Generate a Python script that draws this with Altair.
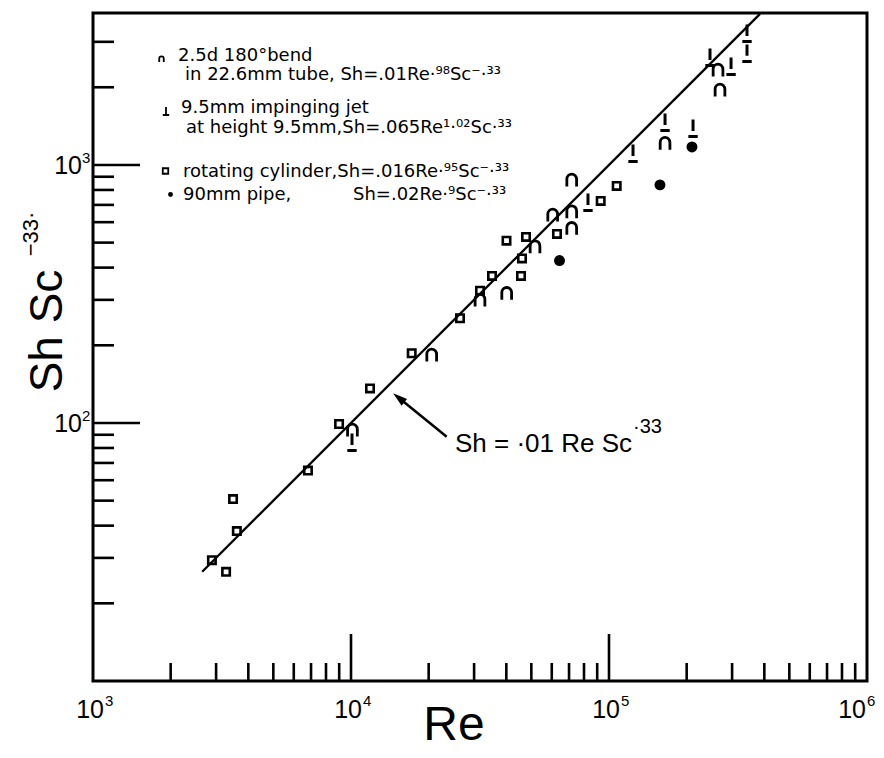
import altair as alt
import pandas as pd

# ---------------- data (Re, Sh*Sc^-0.33) ----------------
cyl_re = [2890, 3280, 3490, 3610, 6810, 8990, 11850, 17190, 26450, 31620, 35200,
          40060, 46000, 45600, 47690, 62860, 92860, 107100]
cyl_v = [29.4, 26.5, 50.7, 38.1, 65.4, 99.1, 136.1, 186.3, 254.6, 325.7, 371.3,
         508.8, 434.1, 371.3, 525.9, 540.2, 725.3, 829.2]

bend_re = [10130, 20550, 31620, 40130, 51670, 60510, 71700, 71700, 71700,
           164900, 269300, 264600]
bend_v = [94.0, 183.5, 299.7, 318.2, 482.4, 640.2, 659.2, 568.4, 874.6,
          1214, 1953, 2335]

jet_re = [10090, 82900, 123900, 164900, 211700, 246300, 297200, 342700, 342700]
jet_v = [84.4, 718.9, 1113, 1468, 1391, 2622, 2420, 2718, 3248]

pipe_re = [64300, 157600, 209700]
pipe_v = [426, 837, 1174]

fit_re = [2650, 385000]
fit_v = [26.5, 3850]

x_labels = [1e3, 1e4, 1e5]
x_label_exp = ["3", "4", "5"]
x_label_last = [1e6]
x_label_last_exp = ["6"]
x_major = [1e4, 1e5]
x_minor = [m * d for d in (1e3, 1e4, 1e5) for m in range(2, 10)]
y_labels = [100, 1000]
y_label_exp = ["2", "3"]
y_major = [100, 1000]
y_minor = [m * d for d in (10, 100) for m in range(2, 10)] + [2000, 3000]

legend_lines = [
    "2.5d 180°bend",
    "in 22.6mm tube, Sh=.01Re·⁹⁸Sc⁻·³³",
    "9.5mm impinging jet",
    "at height 9.5mm,Sh=.065Re¹·⁰²Sc·³³",
    "rotating cylinder,Sh=.016Re·⁹⁵Sc⁻·³³",
    "90mm pipe,",
    "Sh=.02Re·⁹Sc⁻·³³",
]

# ---------------- layout ----------------
W, H = 774, 668
xs = alt.Scale(type="log", domain=[1000, 1e6], nice=False)
ys = alt.Scale(type="log", domain=[10, 3880], nice=False)

BEND = "M-0.75,1L-0.75,-0.1C-0.75,-1.15 0.75,-1.15 0.75,-0.1L0.75,1"
JET = "M0,-1L0,0.35M-0.55,1L0.55,1"
JET_LEG = "M0,-1L0,1M-0.8,1L0.8,1"
ARROW = "M0,-1L0.6,1L-0.6,1Z"
LABEL_FONT = "Liberation Sans"

X = lambda f="re": alt.X(f"{f}:Q", scale=xs, axis=None)
Y = lambda f="v": alt.Y(f"{f}:Q", scale=ys, axis=None)

df_cyl = pd.DataFrame({"re": cyl_re, "v": cyl_v})
df_bend = pd.DataFrame({"re": bend_re, "v": bend_v})
df_jet = pd.DataFrame({"re": jet_re, "v": jet_v})
df_pipe = pd.DataFrame({"re": pipe_re, "v": pipe_v})
df_fit = pd.DataFrame({"re": fit_re, "v": fit_v})

fit_line = alt.Chart(df_fit).mark_line(color="black", strokeWidth=2.3).encode(x=X(), y=Y())

def ticks_x(vals, length):
    return alt.Chart(pd.DataFrame({"t": vals})).mark_rule(
        color="black", strokeWidth=2.6).encode(
        x=X("t"), y=alt.value(H - length), y2=alt.value(H))

def ticks_y(vals, length):
    return alt.Chart(pd.DataFrame({"t": vals})).mark_rule(
        color="black", strokeWidth=2.6).encode(
        y=Y("t"), x=alt.value(0), x2=alt.value(length))

# tick labels "10" + superscript exponent
def x_tick_labels(vals, exps, dx_main, dx_sup):
    df = pd.DataFrame({"t": vals, "e": exps, "b": ["10"] * len(vals)})
    main = alt.Chart(df).mark_text(align="right", baseline="alphabetic", dx=dx_main,
                                   font=LABEL_FONT, fontSize=25, color="black").encode(
        x=X("t"), y=alt.value(705), text="b:N")
    sup = alt.Chart(df).mark_text(align="left", baseline="alphabetic", dx=dx_sup,
                                  font=LABEL_FONT, fontSize=15, color="black").encode(
        x=X("t"), y=alt.value(693), text="e:N")
    return [main, sup]

df_yl = pd.DataFrame({"t": y_labels, "e": y_label_exp, "b": ["10"] * 2})
yl_main = alt.Chart(df_yl).mark_text(align="right", baseline="alphabetic", dy=9,
                                     font=LABEL_FONT, fontSize=25, color="black").encode(
    y=Y("t"), x=alt.value(-11), text="b:N")
yl_sup = alt.Chart(df_yl).mark_text(align="left", baseline="alphabetic", dy=-2,
                                    font=LABEL_FONT, fontSize=15, color="black").encode(
    y=Y("t"), x=alt.value(-11), text="e:N")

cyl = alt.Chart(df_cyl).mark_point(shape="square", filled=False, color="black",
                                   strokeWidth=2.6, size=55, opacity=1).encode(x=X(), y=Y())
bend = alt.Chart(df_bend).mark_point(shape=BEND, filled=False, color="black",
                                     strokeWidth=2.8, size=169, opacity=1).encode(x=X(), y=Y())
jet = alt.Chart(df_jet).mark_point(shape=JET, filled=False, color="black",
                                   strokeWidth=3, size=289, opacity=1).encode(x=X(), y=Y())
pipe = alt.Chart(df_pipe).mark_circle(color="black", size=120, opacity=1).encode(x=X(), y=Y())

# annotation arrow and text (in data coordinates)
arrow_line = alt.Chart(pd.DataFrame({"re": [23490], "v": [88.5], "re2": [15310], "v2": [125.3]})).mark_rule(
    color="black", strokeWidth=2.5).encode(x=X(), y=Y(), x2="re2:Q", y2="v2:Q")
arrow_head = alt.Chart(pd.DataFrame({"re": [15310], "v": [125.3]})).mark_point(
    shape=ARROW, filled=True, color="black", size=210, angle=309, opacity=1).encode(x=X(), y=Y())
ann_text = alt.Chart(pd.DataFrame({"re": [25300], "v": [77.2], "t": ["Sh = ·01 Re  Sc"]})).mark_text(
    align="left", baseline="alphabetic", font="Liberation Sans", fontSize=26, color="black").encode(
    x=X(), y=Y(), text="t:N")
ann_sup = alt.Chart(pd.DataFrame({"re": [123900], "v": [91.5], "t": ["·33"]})).mark_text(
    align="left", baseline="alphabetic", font="Liberation Sans", fontSize=20, color="black").encode(
    x=X(), y=Y(), text="t:N")

# legend (pixel positions inside the plot area)
leg_text_df = pd.DataFrame({
    "px": [85, 92, 88, 93, 90, 90, 260],
    "py": [48, 67, 100, 120, 164, 187, 187],
    "t": legend_lines,
})
leg_text = alt.Chart(leg_text_df).mark_text(
    align="left", baseline="alphabetic", font="DejaVu Sans", fontSize=18, color="black").encode(
    x=alt.X("px:Q", scale=None), y=alt.Y("py:Q", scale=None), text="t:N")

def leg_sym(shape, px, py, size, filled=False, sw=1.8):
    return alt.Chart(pd.DataFrame({"px": [px], "py": [py]})).mark_point(
        shape=shape, filled=filled, color="black", strokeWidth=sw, size=size, opacity=1).encode(
        x=alt.X("px:Q", scale=None), y=alt.Y("py:Q", scale=None))

leg_syms = [
    leg_sym(BEND, 68.5, 46, 36),
    leg_sym(JET_LEG, 73, 98, 64),
    leg_sym("square", 72.5, 158, 30),
    leg_sym("circle", 77.5, 181.5, 24, filled=True),
]

# axis titles as text
ytitle = alt.Chart(pd.DataFrame({"px": [-31], "py": [318], "t": ["Sh Sc"]})).mark_text(
    align="center", baseline="alphabetic", angle=270, font="Liberation Sans",
    fontSize=46, color="black").encode(
    x=alt.X("px:Q", scale=None), y=alt.Y("py:Q", scale=None), text="t:N")
ytitle_sup = alt.Chart(pd.DataFrame({"px": [-55], "py": [221], "t": ["−33·"]})).mark_text(
    align="center", baseline="alphabetic", angle=270, font="Liberation Sans",
    fontSize=22, color="black").encode(
    x=alt.X("px:Q", scale=None), y=alt.Y("py:Q", scale=None), text="t:N")
xtitle = alt.Chart(pd.DataFrame({"px": [361], "py": [727], "t": ["Re"]})).mark_text(
    align="center", baseline="alphabetic", font="Liberation Sans",
    fontSize=48, color="black").encode(
    x=alt.X("px:Q", scale=None), y=alt.Y("py:Q", scale=None), text="t:N")

chart = alt.layer(
    fit_line,
    ticks_x(x_minor, 18), ticks_x(x_major, 47),
    ticks_y(y_minor, 21), ticks_y(y_major, 47),
    *x_tick_labels(x_labels, x_label_exp, 11, 12),
    *x_tick_labels(x_label_last, x_label_last_exp, -1, 0),
    yl_main, yl_sup,
    cyl, bend, jet, pipe,
    arrow_line, arrow_head, ann_text, ann_sup,
    leg_text, *leg_syms,
    ytitle, ytitle_sup, xtitle,
).properties(
    width=W, height=H,
    autosize=alt.AutoSizeParams(type="none"),
    padding={"left": 85, "top": 5, "right": 9, "bottom": 69},
    background="white",
).configure_view(stroke="black", strokeWidth=3)

chart.save("out.html", embed_options={"renderer": "svg", "actions": False})
